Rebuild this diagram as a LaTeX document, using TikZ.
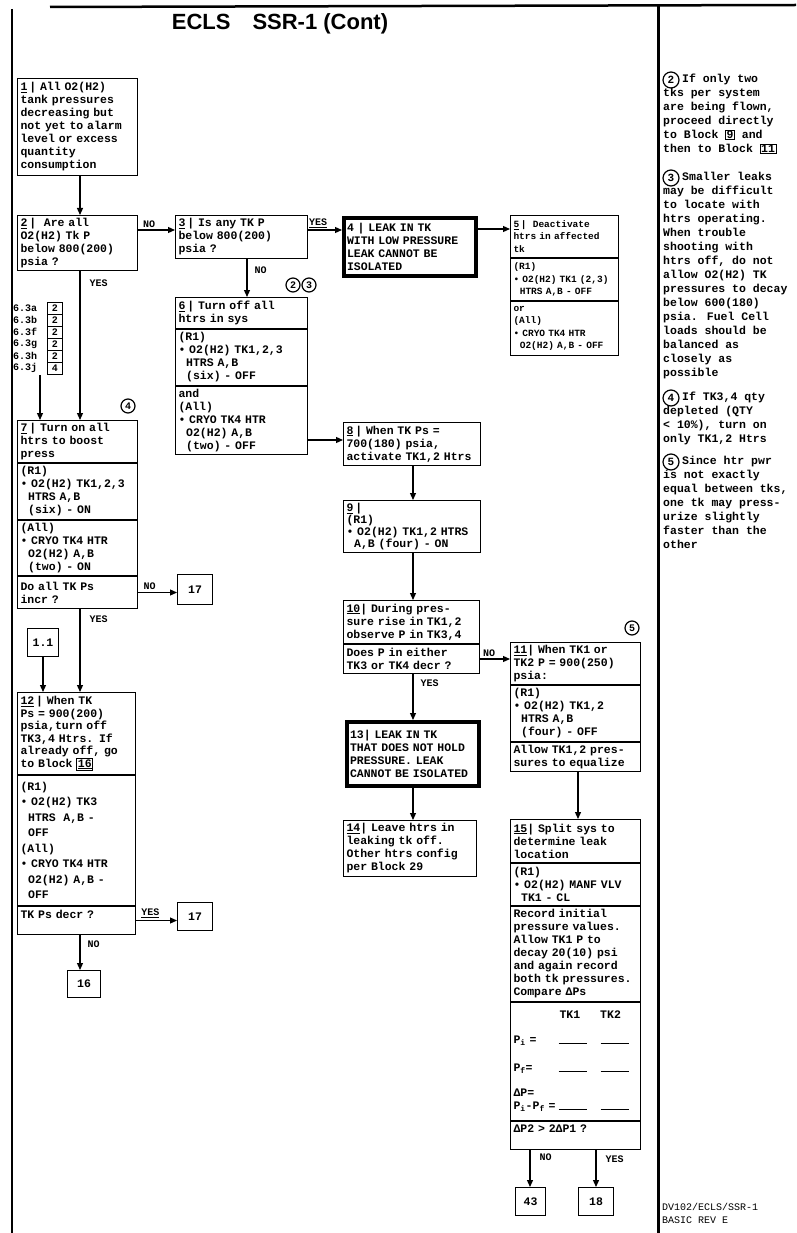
\documentclass[tikz,border=0pt]{standalone}
\usepackage{fontspec}
\newfontfamily\tw[WordSpace={1,0,0}]{Liberation Mono}
\newfontfamily\hd{Liberation Sans}
\usetikzlibrary{arrows.meta,calc}
\setlength{\fboxsep}{0.6pt}
\setlength{\fboxrule}{0.8pt}
\begin{document}
\begin{tikzpicture}[x=1pt,y=-1pt,
  txt/.style={font=\tw\bfseries\fontsize{11.5}{13}\selectfont},
  sec/.style={draw, line width=1pt, anchor=north west, align=left, inner xsep=3pt, inner ysep=1pt, txt},
  small/.style={font=\tw\bfseries\fontsize{9.5}{12.5}\selectfont},
  thk/.style={sec, line width=4pt, inner ysep=3pt},
  nbox/.style={draw, line width=1pt, anchor=north west, inner sep=0pt, align=center, txt},
  arr/.style={-{Triangle[length=7pt,width=6pt]}, line width=1.2pt},
  lbl/.style={font=\tw\bfseries\fontsize{10}{10}\selectfont, inner sep=1pt},
  circ/.style={draw, circle, line width=1.2pt, inner sep=0pt, minimum size=14pt, font=\tw\bfseries\fontsize{10}{10}\selectfont},
  ncirc/.style={circ, minimum size=16pt, font=\tw\bfseries\fontsize{11}{11}\selectfont},
  note/.style={anchor=north west, align=left, inner sep=0pt, font=\tw\bfseries\fontsize{11.5}{14}\selectfont},
  lst/.style={anchor=west, inner sep=0pt, font=\tw\bfseries\fontsize{10}{12}\selectfont},
  lbox/.style={draw, line width=0.8pt, anchor=west, inner sep=0pt, minimum width=15pt, minimum height=12pt, font=\tw\bfseries\fontsize{10}{12}\selectfont},
]
\useasboundingbox (0,0) rectangle (796,1233);

% frame
\draw[line width=2.5pt] (50,7) -- (796,5);
\draw[line width=1.5pt] (12,9) -- (12,1233);
\draw[line width=3pt] (658,5) -- (658,1233);

\node[font=\hd\bfseries\fontsize{22}{22}\selectfont] (title) at (280,24) {ECLS\quad SSR-1 (Cont)};

% guide coordinates
\coordinate (xA) at (80,0);
\coordinate (xB) at (247,0);
\coordinate (xM) at (413,0);
\coordinate (xR) at (578,0);
\coordinate (x43) at (530,0);
\coordinate (x18) at (596,0);
\coordinate (y23) at (0,230);
\coordinate (y45) at (0,229);
\coordinate (y68) at (0,440);

% left column
\node[sec, text width=114pt, minimum height=97pt] (b1) at (17,78) {\underline{1}\,| All O2(H2)\\tank pressures\\decreasing but\\not yet to alarm\\level or excess\\quantity\\consumption};
\node[sec, text width=114pt, minimum height=55pt] (b2) at (17,215) {\underline{2}\,|\ \ Are all\\O2(H2) Tk P\\below 800(200)\\psia ?};

\node[lst] (l1) at (13,308) {6.3a};
\node[lst] (l2) at (13,320) {6.3b};
\node[lst] (l3) at (13,332) {6.3f};
\node[lst] (l4) at (13,344) {6.3g};
\node[lst] (l5) at (13,356) {6.3h};
\node[lst] (l6) at (13,368) {6.3j};
\node[lbox] (q1) at (47,308) {2};
\node[lbox] (q2) at (47,320) {2};
\node[lbox] (q3) at (47,332) {2};
\node[lbox] (q4) at (47,344) {2};
\node[lbox] (q5) at (47,356) {2};
\node[lbox] (q6) at (47,368) {4};
\coordinate (lend) at (40,375);

\node[sec, text width=114pt, minimum height=42pt] (b7a) at (17,420) {\underline{7}\,| Turn on all\\htrs to boost\\press};
\node[sec, text width=114pt, minimum height=56pt] (b7b) at (b7a.south west) {(R1)\\• O2(H2) TK1,2,3\\\ \ HTRS A,B\\\ \ (six) - ON};
\node[sec, text width=114pt, minimum height=55pt] (b7c) at (b7b.south west) {(All)\\• CRYO TK4 HTR\\\ \ O2(H2) A,B\\\ \ (two) - ON};
\node[sec, text width=114pt, minimum height=32pt] (b7d) at (b7c.south west) {Do all TK Ps\\incr ?};
\node[circ] (c4a) at (128,406) {4};

\node[nbox, minimum width=35pt, minimum height=30pt] (n17a) at (177,574) {17};
\node[nbox, minimum width=31pt, minimum height=28pt] (n11) at (27,628) {1.1};

\node[sec, text width=112pt, minimum height=82pt, font=\tw\bfseries\fontsize{11.5}{12.5}\selectfont] (b12a) at (17,692) {\underline{12}\,| When TK\\Ps = 900(200)\\psia,turn off\\TK3,4 Htrs. If\\already off, go\\to Block \fbox{\underline{16}}};
\node[sec, text width=112pt, minimum height=130pt, font=\tw\bfseries\fontsize{11.5}{15.5}\selectfont] (b12b) at (b12a.south west) {(R1)\\• O2(H2) TK3\\\ \ HTRS\ \ A,B -\\\ \ OFF\\(All)\\• CRYO TK4 HTR\\\ \ O2(H2) A,B -\\\ \ OFF};
\node[sec, text width=112pt, minimum height=28pt] (b12c) at (b12b.south west) {TK Ps decr ?\\\mbox{}};
\node[nbox, minimum width=35pt, minimum height=28pt] (n17b) at (177,902) {17};
\node[nbox, minimum width=33pt, minimum height=27pt] (n16) at (67,970) {16};

% column B
\node[sec, text width=126pt, minimum height=43pt] (b3) at (175,215) {\underline{3}\,| Is any TK P\\below 800(200)\\psia ?};
\node[sec, text width=126pt, minimum height=31pt] (b6a) at (175,297) {\underline{6}\,| Turn off all\\htrs in sys};
\node[sec, text width=126pt, minimum height=56pt] (b6b) at (b6a.south west) {(R1)\\• O2(H2) TK1,2,3\\\ \ HTRS A,B\\\ \ (six) - OFF};
\node[sec, text width=126pt, minimum height=68pt] (b6c) at (b6b.south west) {and\\(All)\\• CRYO TK4 HTR\\\ \ O2(H2) A,B\\\ \ (two) - OFF};
\node[circ] (c2a) at (293,285) {2};
\node[circ] (c3a) at (309,285) {3};

% middle column
\node[thk, text width=126pt, minimum height=58pt] (b4) at (342,216) {4 | LEAK IN TK\\WITH LOW PRESSURE\\LEAK CANNOT BE\\ISOLATED};
\node[sec, text width=131pt, minimum height=43pt] (b8) at (343,422) {\underline{8}\,| When TK Ps =\\700(180) psia,\\activate TK1,2 Htrs};
\node[sec, text width=131pt, minimum height=52pt, font=\tw\bfseries\fontsize{11.5}{12}\selectfont] (b9) at (343,500) {\underline{9}\,|\\(R1)\\• O2(H2) TK1,2 HTRS\\\ \ A,B (four) - ON};
\node[sec, text width=130pt, minimum height=43pt] (b10a) at (343,600) {\underline{10}| During pres-\\sure rise in TK1,2\\observe P in TK3,4};
\node[sec, text width=130pt, minimum height=29pt] (b10b) at (b10a.south west) {Does P in either\\TK3 or TK4 decr ?};
\node[thk, text width=126pt, minimum height=64pt] (b13) at (345,720) {13| LEAK IN TK\\THAT DOES NOT HOLD\\PRESSURE. LEAK\\CANNOT BE ISOLATED};
\node[sec, text width=127pt, minimum height=56pt] (b14) at (343,820) {\underline{14}| Leave htrs in\\leaking tk off.\\Other htrs config\\per Block 29};

% right column
\node[sec, small, text width=102pt, minimum height=42pt] (b5a) at (510,215) {\underline{5}\,|\ \ Deactivate\\htrs in affected\\tk};
\node[sec, small, text width=102pt, minimum height=42pt] (b5b) at (b5a.south west) {(R1)\\• O2(H2) TK1 (2,3)\\\ \ HTRS A,B - OFF};
\node[sec, small, text width=102pt, minimum height=54pt] (b5c) at (b5b.south west) {or\\(All)\\• CRYO TK4 HTR\\\ \ O2(H2) A,B - OFF};

\node[sec, text width=124pt, minimum height=42pt] (b11a) at (510,642) {\underline{11}| When TK1 or\\TK2 P = 900(250)\\psia:};
\node[sec, text width=124pt, minimum height=56pt] (b11b) at (b11a.south west) {(R1)\\• O2(H2) TK1,2\\\ \ HTRS A,B\\\ \ (four) - OFF};
\node[sec, text width=124pt, minimum height=29pt] (b11c) at (b11b.south west) {Allow TK1,2 pres-\\sures to equalize};
\node[circ] (c5a) at (632,628) {5};

\node[sec, text width=124pt, minimum height=43pt] (b15a) at (510,819) {\underline{15}| Split sys to\\determine leak\\location};
\node[sec, text width=124pt, minimum height=42pt] (b15b) at (b15a.south west) {(R1)\\• O2(H2) MANF VLV\\\ \ TK1 - CL};
\node[sec, text width=124pt, minimum height=95pt] (b15c) at (b15b.south west) {Record initial\\pressure values.\\Allow TK1 P to\\decay 20(10) psi\\and again record\\both tk pressures.\\Compare ΔPs};
\node[sec, text width=124pt, minimum height=118pt] (b15d) at (b15c.south west) {\hspace*{46pt}TK1\hspace*{20pt}TK2\\[12pt]\makebox[45pt][l]{P\textsubscript{i} =}\rule{28pt}{1pt}\hspace{14pt}\rule{28pt}{1pt}\\[15pt]\makebox[45pt][l]{P\textsubscript{f}=}\rule{28pt}{1pt}\hspace{14pt}\rule{28pt}{1pt}\\[12pt]ΔP=\\\makebox[45pt][l]{P\textsubscript{i}-P\textsubscript{f} =}\rule{28pt}{1pt}\hspace{14pt}\rule{28pt}{1pt}};
\node[sec, text width=124pt, minimum height=28pt] (b15e) at (b15d.south west) {ΔP2 > 2ΔP1 ?\\\mbox{}};
\node[nbox, minimum width=30pt, minimum height=28pt] (n43) at (515,1187) {43};
\node[nbox, minimum width=35pt, minimum height=28pt] (n18) at (578,1187) {18};

% notes
\node[ncirc] (c2n) at (671,80) {2};
\node[note] (t2) at (663,74) {\hspace*{19pt}If only two\\tks per system\\are being flown,\\proceed directly\\to Block \fbox{9} and\\then to Block \fbox{11}};
\node[ncirc] (c3n) at (671,178) {3};
\node[note] (t3) at (663,172) {\hspace*{19pt}Smaller leaks\\may be difficult\\to locate with\\htrs operating.\\When trouble\\shooting with\\htrs off, do not\\allow O2(H2) TK\\pressures to decay\\below 600(180)\\psia. Fuel Cell\\loads should be\\balanced as\\closely as\\possible};
\node[ncirc] (c4n) at (671,398) {4};
\node[note] (t4) at (663,392) {\hspace*{19pt}If TK3,4 qty\\depleted (QTY\\< 10\%), turn on\\only TK1,2 Htrs};
\node[ncirc] (c5n) at (671,462) {5};
\node[note] (t5) at (663,456) {\hspace*{19pt}Since htr pwr\\is not exactly\\equal between tks,\\one tk may press-\\urize slightly\\faster than the\\other};

\node[anchor=north west, align=left, inner sep=0pt, font=\tw\fontsize{10}{13}\selectfont] (foot) at (662,1203) {DV102/ECLS/SSR-1\\BASIC REV E};

% connectors
\draw[arr] (b1.south -| xA) -- (b2.north -| xA);
\draw[arr] (b2.east |- y23) -- (b3.west |- y23) node[lbl, pos=0.3, above=1pt] {NO};
\draw[arr] (b3.east |- y23) -- (b4.west |- y23) node[lbl, pos=0.3, above=1pt] {\underline{YES}};
\draw[arr] (b4.east |- y45) -- (b5a.west |- y45);
\draw[arr] (b3.south -| xB) -- (b6a.north -| xB) node[lbl, pos=0.3, right=6pt] {NO};
\draw[arr] (b2.south -| xA) -- (b7a.north -| xA) node[lbl, pos=0.08, right=8pt] {YES};
\draw[arr] (lend) -- (b7a.north -| lend);
\draw[arr] (b6c.east |- y68) -- (b8.west |- y68);
\draw[arr] (b7d.east) -- (b7d.east -| n17a.west) node[lbl, pos=0.3, above=1pt] {NO};
\draw[arr] (b7d.south -| xA) -- (b12a.north -| xA) node[lbl, pos=0.12, right=8pt] {YES};
\draw[arr] (n11.south) -- (b12a.north -| n11.south);
\draw[arr] (b12c.east) -- (b12c.east -| n17b.west) node[lbl, pos=0.35, above=1pt] {\underline{YES}};
\draw[arr] (b12c.south -| xA) -- (n16.north -| xA) node[lbl, pos=0.25, right=6pt] {NO};
\draw[arr] (b8.south -| xM) -- (b9.north -| xM);
\draw[arr] (b9.south -| xM) -- (b10a.north -| xM);
\draw[arr] (b10b.east) -- (b10b.east -| b11a.west) node[lbl, pos=0.3, above=1pt] {NO};
\draw[arr] (b10b.south -| xM) -- (b13.north -| xM) node[lbl, pos=0.2, right=6pt] {YES};
\draw[arr] (b13.south -| xM) -- (b14.north -| xM);
\draw[arr] (b11c.south -| xR) -- (b15a.north -| xR);
\draw[arr] (b15e.south -| x43) -- (n43.north -| x43) node[lbl, pos=0.2, right=8pt] {NO};
\draw[arr] (b15e.south -| x18) -- (n18.north -| x18) node[lbl, pos=0.25, right=8pt] {YES};
\end{tikzpicture}
\end{document}
